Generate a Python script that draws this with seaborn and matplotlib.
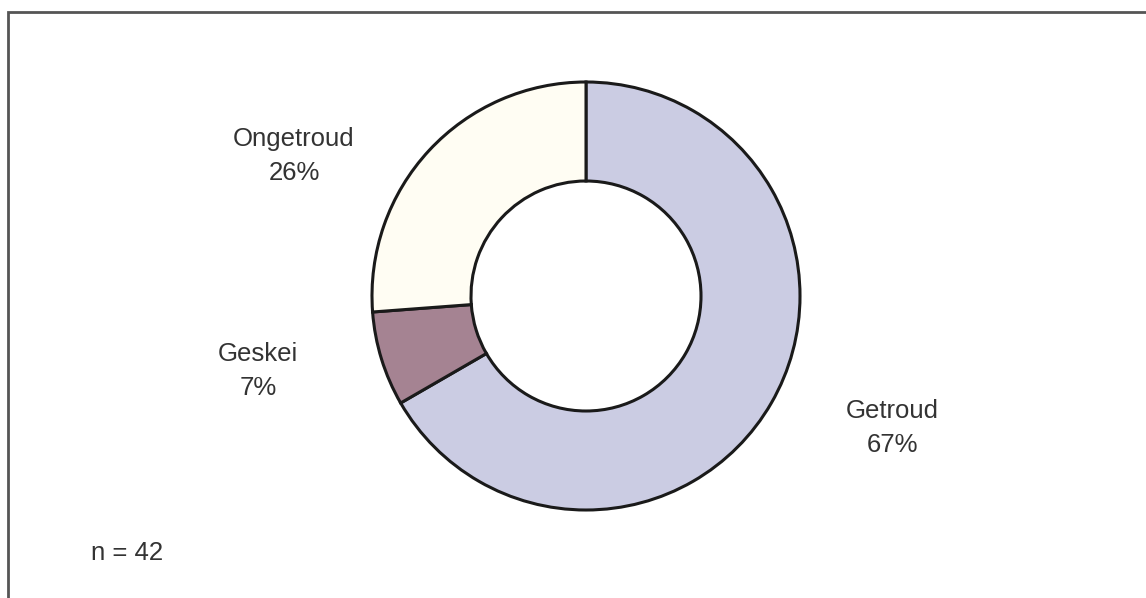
import matplotlib
matplotlib.use("Agg")
import matplotlib.pyplot as plt
from matplotlib.patches import Rectangle
import seaborn as sns

# Marital status of respondents
categories = ["Getroud", "Geskei", "Ongetroud"]
counts = [28, 3, 11]
percent_labels = ["67%", "7%", "26%"]
sample_note = "n = 42"

sns.set_theme(style="white")
plt.rcParams["font.family"] = ["Liberation Sans", "DejaVu Sans"]

colors = ["#cbcce3", "#a58392", "#fffdf3"]
text_color = "#333333"

W, H = 1146, 598
fig = plt.figure(figsize=(W / 100, H / 100), dpi=100)
ax = fig.add_axes([0, 0, 1, 1])

outer_r = 214
inner_r = 115
ax.pie(
    counts,
    center=(586, H - 296),
    radius=outer_r,
    startangle=90,
    counterclock=False,
    colors=colors,
    wedgeprops=dict(width=outer_r - inner_r, edgecolor="#1a1a1a", linewidth=2.2),
    frame=True,
)
ax.set_xlim(0, W)
ax.set_ylim(0, H)
ax.set_aspect("equal")
ax.axis("off")

label_pos = {
    "Getroud": (892, H - 428),
    "Geskei": (258, H - 371),
    "Ongetroud": (294, H - 156),
}
for cat, pct in zip(categories, percent_labels):
    x, y = label_pos[cat]
    ax.text(x, y, f"{cat}\n{pct}", ha="center", va="center", fontsize=18.5,
            color=text_color, linespacing=1.5)

ax.text(91, H - 553, sample_note, ha="left", va="center", fontsize=18.5,
        color=text_color)

# Outer frame (runs off the right and bottom edges)
ax.add_patch(Rectangle((8, -20), W + 20, H - 12 + 20, fill=False,
                       edgecolor="#555555", linewidth=2, clip_on=False))

fig.savefig("out.png", dpi=100, facecolor="white")
